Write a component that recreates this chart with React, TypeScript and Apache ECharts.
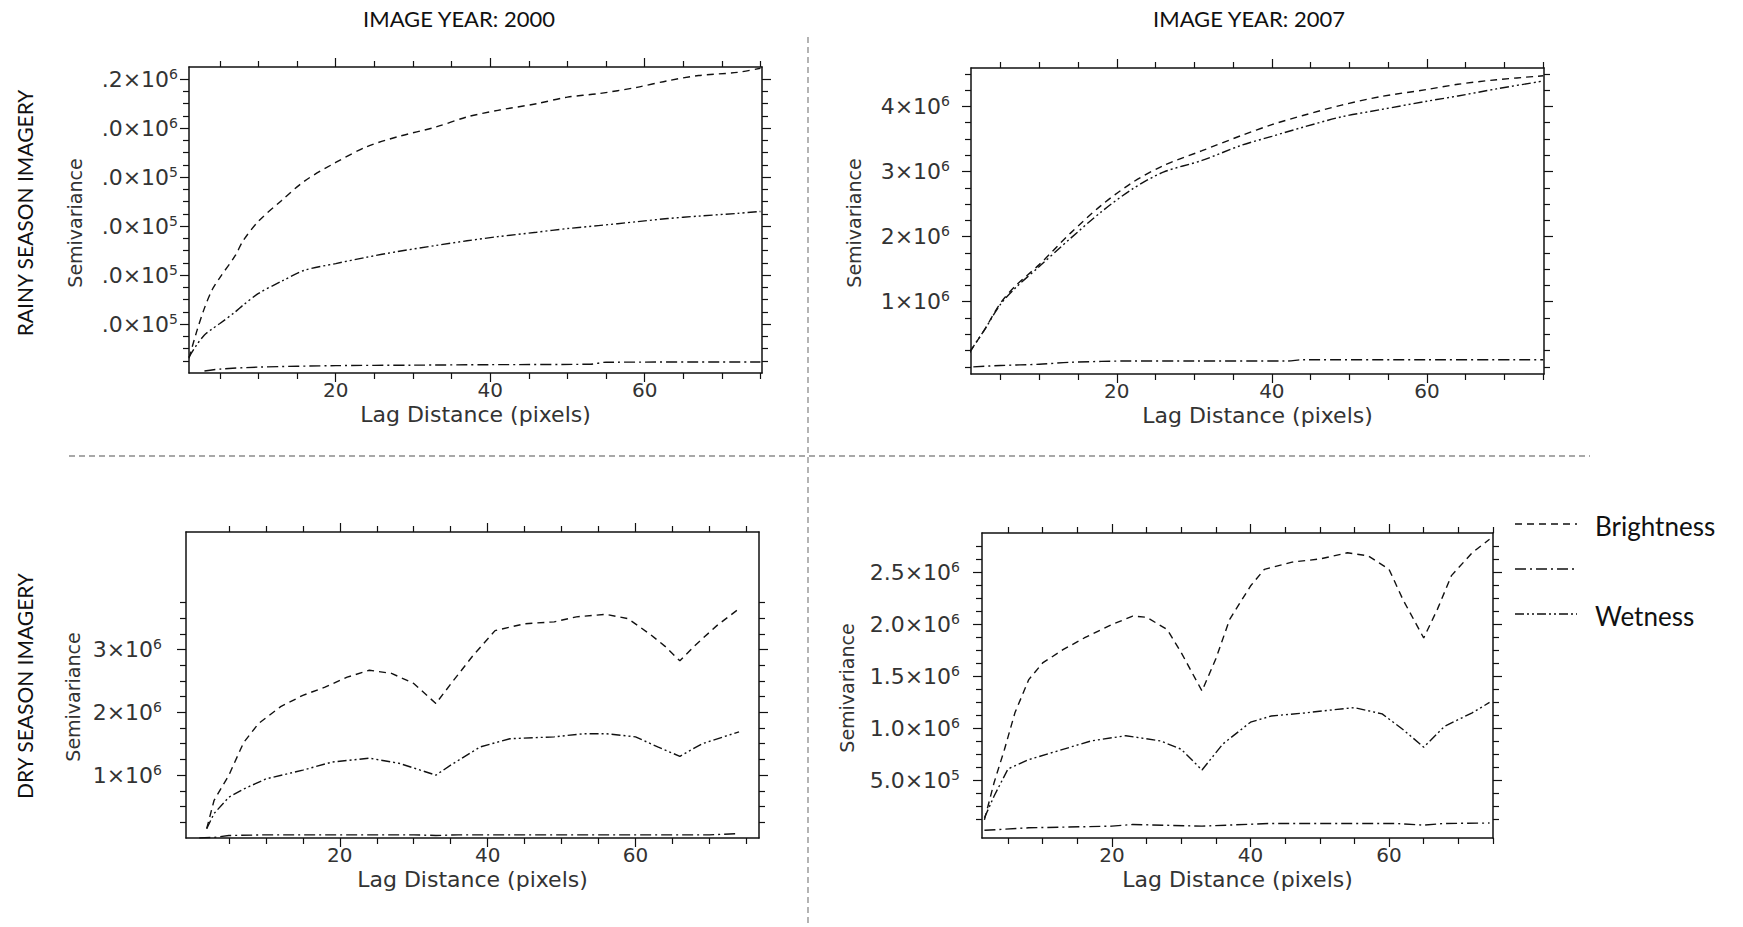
import { useEffect, useRef } from "react";
import * as echarts from "echarts";

// ---------------- shared tick values ----------------
const lagMajorTicks = [20, 40, 60];
const lagMinorTicks = [5, 10, 15, 25, 30, 35, 45, 50, 55, 65, 70, 75];

// ---------------- Rainy season, 2000 (top-left) ----------------
const rain2000Lags = [1, 2, 3, 4, 5, 7, 8, 10, 13, 16, 20, 24, 28, 33, 37, 41, 46, 50, 54, 59, 63, 67, 72, 75];
const rain2000Brightness = [60000, 170000, 265000, 340000, 390000, 480000, 540000, 620000, 705000, 785000, 860000, 924000, 965000, 1005000, 1046000, 1073000, 1100000, 1127000, 1141000, 1167000, 1194000, 1215000, 1228000, 1245000];
const rain2000Wetness = [65000, 115000, 155000, 180000, 202000, 250000, 277000, 325000, 375000, 420000, 447000, 473000, 496000, 521000, 540000, 557000, 575000, 590000, 602000, 618000, 631000, 641000, 652000, 660000];
const rain2000GreenLags = [3, 5, 10, 20, 30, 40, 53, 55, 75];
const rain2000Greenness = [8000, 16000, 24000, 30000, 32000, 34000, 36000, 44000, 45000];
const rain2000YMajor = [200000, 400000, 600000, 800000, 1000000, 1200000];
const rain2000YLabel = [".0×10", ".0×10", ".0×10", ".0×10", ".0×10", ".2×10"];
const rain2000YExp = ["5", "5", "5", "5", "6", "6"];
const rain2000YMinor = [50000, 100000, 150000, 250000, 300000, 350000, 450000, 500000, 550000, 650000, 700000, 750000, 850000, 900000, 950000, 1050000, 1100000, 1150000];

// ---------------- Rainy season, 2007 (top-right) ----------------
const rain2007Lags = [1, 2, 3, 5, 7, 10, 14, 18, 22, 26, 31, 36, 40, 44, 49, 54, 60, 64, 69, 75];
const rain2007Brightness = [220000, 400000, 580000, 980000, 1250000, 1570000, 2050000, 2480000, 2830000, 3090000, 3320000, 3550000, 3720000, 3860000, 4020000, 4150000, 4260000, 4340000, 4410000, 4470000];
const rain2007Wetness = [220000, 400000, 580000, 960000, 1220000, 1540000, 1970000, 2380000, 2730000, 2990000, 3170000, 3400000, 3540000, 3680000, 3840000, 3950000, 4080000, 4160000, 4270000, 4390000];
const rain2007GreenLags = [1.5, 5, 10, 14, 22, 30, 42, 44, 60, 75];
const rain2007Greenness = [0, 20000, 40000, 70000, 90000, 90000, 90000, 110000, 110000, 110000];
const rain2007YMajor = [1000000, 2000000, 3000000, 4000000];
const rain2007YLabel = ["1×10", "2×10", "3×10", "4×10"];
const rain2007YExp = ["6", "6", "6", "6"];
const rain2007YMinor = [0, 250000, 500000, 750000, 1250000, 1500000, 1750000, 2250000, 2500000, 2750000, 3250000, 3500000, 3750000, 4250000, 4500000];

// ---------------- Dry season, 2000 (bottom-left) ----------------
const dry2000BrightLags = [2, 3, 5, 7, 9, 12, 15, 18, 21, 24, 27, 30, 33, 35, 38, 41, 45, 49, 52, 56, 59, 62, 64, 66, 68, 71, 74];
const dry2000Brightness = [150000, 600000, 1000000, 1520000, 1820000, 2090000, 2270000, 2400000, 2560000, 2670000, 2620000, 2460000, 2140000, 2450000, 2900000, 3300000, 3410000, 3440000, 3520000, 3560000, 3490000, 3240000, 3050000, 2820000, 3060000, 3380000, 3650000];
const dry2000WetLags = [2, 3, 5, 7, 10, 15, 19, 24, 28, 33, 35, 39, 43, 49, 53, 56, 60, 63, 66, 69, 74];
const dry2000Wetness = [150000, 390000, 650000, 780000, 940000, 1080000, 1210000, 1270000, 1190000, 1000000, 1160000, 1450000, 1580000, 1610000, 1660000, 1660000, 1610000, 1450000, 1300000, 1500000, 1690000];
const dry2000GreenLags = [1, 3, 5, 10, 20, 30, 33, 36, 50, 60, 70, 74];
const dry2000Greenness = [0, 10000, 40000, 50000, 50000, 50000, 40000, 50000, 50000, 50000, 50000, 70000];
const dry2000YMajor = [1000000, 2000000, 3000000];
const dry2000YLabel = ["1×10", "2×10", "3×10"];
const dry2000YExp = ["6", "6", "6"];
const dry2000YMinor = [250000, 500000, 750000, 1250000, 1500000, 1750000, 2250000, 2500000, 2750000, 3250000, 3500000, 3750000];

// ---------------- Dry season, 2007 (bottom-right) ----------------
const dry2007BrightLags = [1.6, 3, 4.5, 6, 8, 10, 13, 16, 20, 23, 25, 28, 30, 33, 35, 37, 40, 42, 46, 50, 54, 57, 60, 62, 65, 67, 69, 72, 74.5];
const dry2007Brightness = [120000, 480000, 800000, 1150000, 1470000, 1630000, 1760000, 1870000, 2000000, 2080000, 2070000, 1950000, 1730000, 1360000, 1670000, 2050000, 2370000, 2530000, 2600000, 2630000, 2690000, 2660000, 2530000, 2240000, 1870000, 2150000, 2470000, 2690000, 2820000];
const dry2007WetLags = [1.6, 3, 5, 8, 12, 17, 22, 27, 30, 33, 36, 40, 43, 48, 52, 55, 59, 62, 65, 68, 72, 74.5];
const dry2007Wetness = [140000, 350000, 610000, 700000, 780000, 880000, 930000, 880000, 800000, 600000, 850000, 1060000, 1120000, 1150000, 1180000, 1200000, 1140000, 990000, 820000, 1020000, 1150000, 1250000];
const dry2007GreenLags = [1.6, 8, 20, 23, 33, 43, 61, 65, 68, 74.5];
const dry2007Greenness = [20000, 44000, 60000, 76000, 60000, 86000, 86000, 70000, 86000, 90000];
const dry2007YMajor = [500000, 1000000, 1500000, 2000000, 2500000];
const dry2007YLabel = ["5.0×10", "1.0×10", "1.5×10", "2.0×10", "2.5×10"];
const dry2007YExp = ["5", "6", "6", "6", "6"];
const dry2007YMinor = [125000, 250000, 375000, 625000, 750000, 875000, 1125000, 1250000, 1375000, 1625000, 1750000, 1875000, 2125000, 2250000, 2375000, 2625000, 2750000];

// ---------------- texts ----------------
const columnTitles = ["IMAGE YEAR: 2000", "IMAGE YEAR: 2007"];
const rowTitles = ["RAINY SEASON IMAGERY", "DRY SEASON IMAGERY"];
const xAxisName = "Lag Distance (pixels)";
const yAxisName = "Semivariance";
const legendNames = ["Brightness", "", "Wetness"];

// ---------------- styles ----------------
const AXIS_FONT = "'DejaVu Sans', 'Liberation Sans', sans-serif";
const TITLE_FONT = "Lato, 'Open Sans', sans-serif";
const INK = "#111";
const TEXT = "#333";
const DASH_BRIGHT = [7, 5];
const DASH_GREEN = [11, 4, 2, 4];
const DASH_WET = [9, 3, 2, 3, 2, 3];

const zip = (xs: number[], ys: number[]) => xs.map((x, i) => [x, ys[i]]);

type Panel = {
  box: { left: number; top: number; width: number; height: number };
  xRange: [number, number];
  yRange: [number, number];
  yMajor: number[];
  yLabel: string[];
  yExp: string[];
  yMinor: number[];
  labelMargin: number;
  yNamePos: [number, number];
  smooth: boolean;
  lines: { x: number[]; y: number[]; dash: number[] }[];
};

const panels: Panel[] = [
  {
    box: { left: 189, top: 67, width: 573, height: 306 },
    xRange: [1, 75.2],
    yRange: [0, 1250000],
    yMajor: rain2000YMajor, yLabel: rain2000YLabel, yExp: rain2000YExp, yMinor: rain2000YMinor,
    labelMargin: 11, yNamePos: [75, 223], smooth: true,
    lines: [
      { x: rain2000Lags, y: rain2000Brightness, dash: DASH_BRIGHT },
      { x: rain2000GreenLags, y: rain2000Greenness, dash: DASH_GREEN },
      { x: rain2000Lags, y: rain2000Wetness, dash: DASH_WET },
    ],
  },
  {
    box: { left: 971, top: 68, width: 573, height: 306 },
    xRange: [1.2, 75.1],
    yRange: [-110000, 4590000],
    yMajor: rain2007YMajor, yLabel: rain2007YLabel, yExp: rain2007YExp, yMinor: rain2007YMinor,
    labelMargin: 21, yNamePos: [854, 223], smooth: true,
    lines: [
      { x: rain2007Lags, y: rain2007Brightness, dash: DASH_BRIGHT },
      { x: rain2007GreenLags, y: rain2007Greenness, dash: DASH_GREEN },
      { x: rain2007Lags, y: rain2007Wetness, dash: DASH_WET },
    ],
  },
  {
    box: { left: 186, top: 532, width: 573, height: 306 },
    xRange: [-0.8, 76.7],
    yRange: [0, 4870000],
    yMajor: dry2000YMajor, yLabel: dry2000YLabel, yExp: dry2000YExp, yMinor: dry2000YMinor,
    labelMargin: 24, yNamePos: [73, 697], smooth: false,
    lines: [
      { x: dry2000BrightLags, y: dry2000Brightness, dash: DASH_BRIGHT },
      { x: dry2000GreenLags, y: dry2000Greenness, dash: DASH_GREEN },
      { x: dry2000WetLags, y: dry2000Wetness, dash: DASH_WET },
    ],
  },
  {
    box: { left: 982, top: 533, width: 511, height: 305 },
    xRange: [1.25, 75],
    yRange: [-54000, 2880000],
    yMajor: dry2007YMajor, yLabel: dry2007YLabel, yExp: dry2007YExp, yMinor: dry2007YMinor,
    labelMargin: 22, yNamePos: [847, 688], smooth: false,
    lines: [
      { x: dry2007BrightLags, y: dry2007Brightness, dash: DASH_BRIGHT },
      { x: dry2007GreenLags, y: dry2007Greenness, dash: DASH_GREEN },
      { x: dry2007WetLags, y: dry2007Wetness, dash: DASH_WET },
    ],
  },
];

function buildOption() {
  const grid: any[] = [];
  const xAxis: any[] = [];
  const yAxis: any[] = [];
  const series: any[] = [];
  const graphic: any[] = [];
  const lineStyle = { color: INK, width: 1.5 };
  const tickStyle = { color: INK, width: 1.2 };

  panels.forEach((p, i) => {
    grid.push({ ...p.box, containLabel: false });
    const xBase = { gridIndex: i, type: "value", min: p.xRange[0], max: p.xRange[1], splitLine: { show: false } };
    const yBase = { gridIndex: i, type: "value", min: p.yRange[0], max: p.yRange[1], splitLine: { show: false } };
    xAxis.push({
      ...xBase, position: "bottom",
      axisLine: { show: true, onZero: false, lineStyle },
      axisTick: { show: true, inside: false, length: 9, customValues: lagMajorTicks, lineStyle: tickStyle },
      axisLabel: { show: true, customValues: lagMajorTicks, margin: 7, fontSize: 20, lineHeight: 20, fontFamily: AXIS_FONT, color: TEXT },
    });
    xAxis.push({
      ...xBase, position: "bottom",
      axisLine: { show: false, onZero: false },
      axisTick: { show: true, inside: false, length: 6, customValues: lagMinorTicks, lineStyle: tickStyle },
      axisLabel: { show: false },
    });
    xAxis.push({
      ...xBase, position: "top",
      axisLine: { show: true, onZero: false, lineStyle },
      axisTick: { show: true, inside: false, length: 9, customValues: lagMajorTicks, lineStyle: tickStyle },
      axisLabel: { show: false },
    });
    xAxis.push({
      ...xBase, position: "top",
      axisLine: { show: false, onZero: false },
      axisTick: { show: true, inside: false, length: 6, customValues: lagMinorTicks, lineStyle: tickStyle },
      axisLabel: { show: false },
    });
    const fmt = (v: number) => {
      let k = 0;
      let best = Infinity;
      p.yMajor.forEach((m, j) => {
        const d = Math.abs(m - v);
        if (d < best) { best = d; k = j; }
      });
      return `{m|${p.yLabel[k]}}{s|${p.yExp[k]}}`;
    };
    yAxis.push({
      ...yBase, position: "left",
      axisLine: { show: true, onZero: false, lineStyle },
      axisTick: { show: true, inside: false, length: 9, customValues: p.yMajor, lineStyle: tickStyle },
      axisLabel: {
        show: true, customValues: p.yMajor, margin: p.labelMargin, formatter: fmt,
        rich: {
          m: { fontSize: 22, fontFamily: AXIS_FONT, color: TEXT, lineHeight: 25 },
          s: { fontSize: 14, fontFamily: AXIS_FONT, color: TEXT, lineHeight: 14, verticalAlign: "top" },
        },
      },
    });
    yAxis.push({
      ...yBase, position: "left",
      axisLine: { show: false, onZero: false },
      axisTick: { show: true, inside: false, length: 6, customValues: p.yMinor, lineStyle: tickStyle },
      axisLabel: { show: false },
    });
    yAxis.push({
      ...yBase, position: "right",
      axisLine: { show: true, onZero: false, lineStyle },
      axisTick: { show: true, inside: false, length: 9, customValues: p.yMajor, lineStyle: tickStyle },
      axisLabel: { show: false },
    });
    yAxis.push({
      ...yBase, position: "right",
      axisLine: { show: false, onZero: false },
      axisTick: { show: true, inside: false, length: 6, customValues: p.yMinor, lineStyle: tickStyle },
      axisLabel: { show: false },
    });
    p.lines.forEach((l) => {
      series.push({
        type: "line",
        xAxisIndex: i * 4,
        yAxisIndex: i * 4,
        data: zip(l.x, l.y),
        showSymbol: false,
        symbol: "none",
        smooth: p.smooth ? 0.3 : false,
        clip: true,
        lineStyle: { color: INK, width: 1.4, type: l.dash },
      });
    });
    // axis names
    graphic.push({
      type: "text",
      x: p.box.left + p.box.width / 2,
      y: p.box.top + p.box.height + 41,
      style: { text: xAxisName, align: "center", verticalAlign: "middle", fontSize: 22, lineHeight: 22, fontFamily: AXIS_FONT, fill: TEXT },
    });
    graphic.push({
      type: "text",
      x: p.yNamePos[0],
      y: p.yNamePos[1],
      rotation: Math.PI / 2,
      style: { text: yAxisName, align: "center", verticalAlign: "middle", fontSize: 19, fontFamily: AXIS_FONT, fill: TEXT },
    });
  });

  const divider = { stroke: "#8c8c8c", lineWidth: 1.3, lineDash: [6, 4] };
  const legendRows = [524, 569, 614];
  const legendDash = [DASH_BRIGHT, DASH_GREEN, DASH_WET];
  graphic.push(
    { type: "text", x: 459, y: 18, style: { text: columnTitles[0], align: "center", verticalAlign: "middle", fontSize: 22, fontFamily: TITLE_FONT, fill: "#111" } },
    { type: "text", x: 1249, y: 18, style: { text: columnTitles[1], align: "center", verticalAlign: "middle", fontSize: 22, fontFamily: TITLE_FONT, fill: "#111" } },
    { type: "text", x: 24, y: 213, rotation: Math.PI / 2, style: { text: rowTitles[0], align: "center", verticalAlign: "middle", fontSize: 21, fontFamily: TITLE_FONT, fill: "#111" } },
    { type: "text", x: 24, y: 686, rotation: Math.PI / 2, style: { text: rowTitles[1], align: "center", verticalAlign: "middle", fontSize: 21, fontFamily: TITLE_FONT, fill: "#111" } },
    { type: "line", shape: { x1: 808, y1: 37, x2: 808, y2: 927 }, style: divider },
    { type: "line", shape: { x1: 69, y1: 456, x2: 1590, y2: 456 }, style: divider },
  );
  legendRows.forEach((y, k) => {
    graphic.push({ type: "line", shape: { x1: 1515, y1: y, x2: 1577, y2: y }, style: { stroke: INK, lineWidth: 1.5, lineDash: legendDash[k] } });
    if (legendNames[k]) {
      graphic.push({ type: "text", x: 1595, y: y + 2, style: { text: legendNames[k], align: "left", verticalAlign: "middle", fontSize: 26, fontFamily: TITLE_FONT, fill: "#111" } });
    }
  });

  return { animation: false, backgroundColor: "#fff", grid, xAxis, yAxis, series, graphic };
}

export default function App() {
  const ref = useRef<HTMLDivElement>(null);
  useEffect(() => {
    if (!ref.current) return;
    const chart = echarts.init(ref.current, undefined, { renderer: "svg" });
    chart.setOption(buildOption() as any);
    return () => chart.dispose();
  }, []);
  return (
    <div
      ref={ref}
      style={{ position: "fixed", left: 0, top: 0, width: 1743, height: 927, background: "#fff" }}
    />
  );
}
